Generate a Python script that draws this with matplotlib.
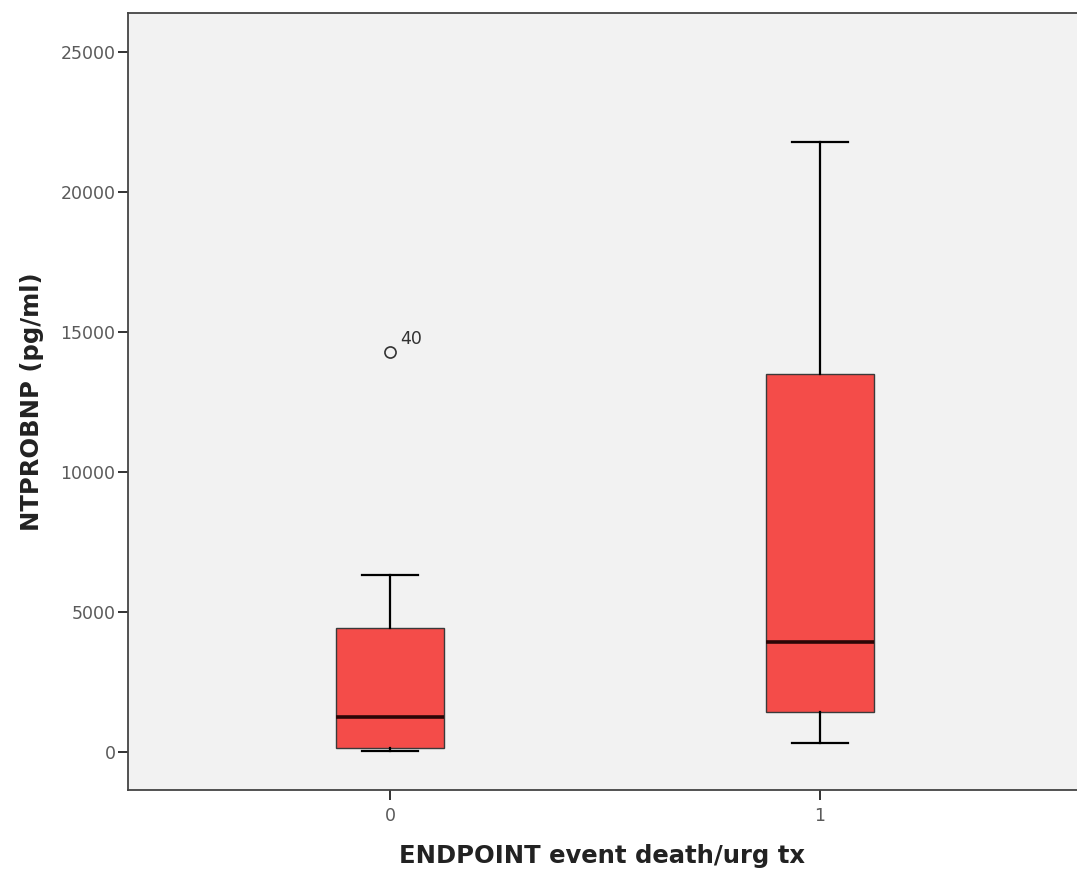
import numpy as np
import matplotlib.pyplot as plt

# Box statistics (pg/ml)
groups = ["0", "1"]
whisker_low = [20, 310]
q1 = [130, 1420]
medians = [1240, 3920]
q3 = [4420, 13490]
whisker_high = [6310, 21780]
outliers = [[14280], []]
outlier_ids = [["40"], []]

stats = []
for i, g in enumerate(groups):
    stats.append(dict(label=g, whislo=whisker_low[i], q1=q1[i], med=medians[i],
                      q3=q3[i], whishi=whisker_high[i], fliers=outliers[i]))

fig = plt.figure(figsize=(10.77, 8.75), dpi=100)
ax = fig.add_axes([0.1188, 0.0971, 0.8812, 0.888])
ax.set_facecolor("#f2f2f2")

positions = np.arange(len(groups))
ax.bxp(stats, positions=positions, widths=0.252, patch_artist=True,
       boxprops=dict(facecolor="#f44c49", edgecolor="#3a3a3a", linewidth=1.0),
       medianprops=dict(color="#2b0606", linewidth=2.6),
       whiskerprops=dict(color="black", linewidth=1.6),
       capprops=dict(color="black", linewidth=1.6),
       capwidths=0.13,
       flierprops=dict(marker="o", markerfacecolor="none", markeredgecolor="#333333",
                       markersize=8, markeredgewidth=1.2))

for i, ids in enumerate(outlier_ids):
    for val, lab in zip(outliers[i], ids):
        ax.annotate(lab, (positions[i], val), xytext=(7, 6), textcoords="offset points",
                    fontsize=12.5, color="#333333")

ax.set_xlim(-0.611, 1.599)
ax.set_ylim(-1370, 26380)
ax.set_yticks([0, 5000, 10000, 15000, 20000, 25000])
ax.set_xticks(positions)
ax.set_xticklabels(groups)
ax.tick_params(axis="both", direction="out", length=7, width=1.3, color="#222222",
               labelsize=12.5, labelcolor="#5a5a5a")
ax.tick_params(axis="y", pad=2)
ax.tick_params(axis="x", pad=5)
for side in ["top", "left", "bottom"]:
    ax.spines[side].set_color("#444444")
    ax.spines[side].set_linewidth(1.3)
ax.spines["right"].set_visible(False)

ax.set_ylabel("NTPROBNP (pg/ml)", fontsize=17.5, fontweight="bold", color="#222222", labelpad=12)
ax.set_xlabel("ENDPOINT event death/urg tx", fontsize=17.5, fontweight="bold",
              color="#222222", labelpad=14)

fig.savefig("out.png", dpi=100)
